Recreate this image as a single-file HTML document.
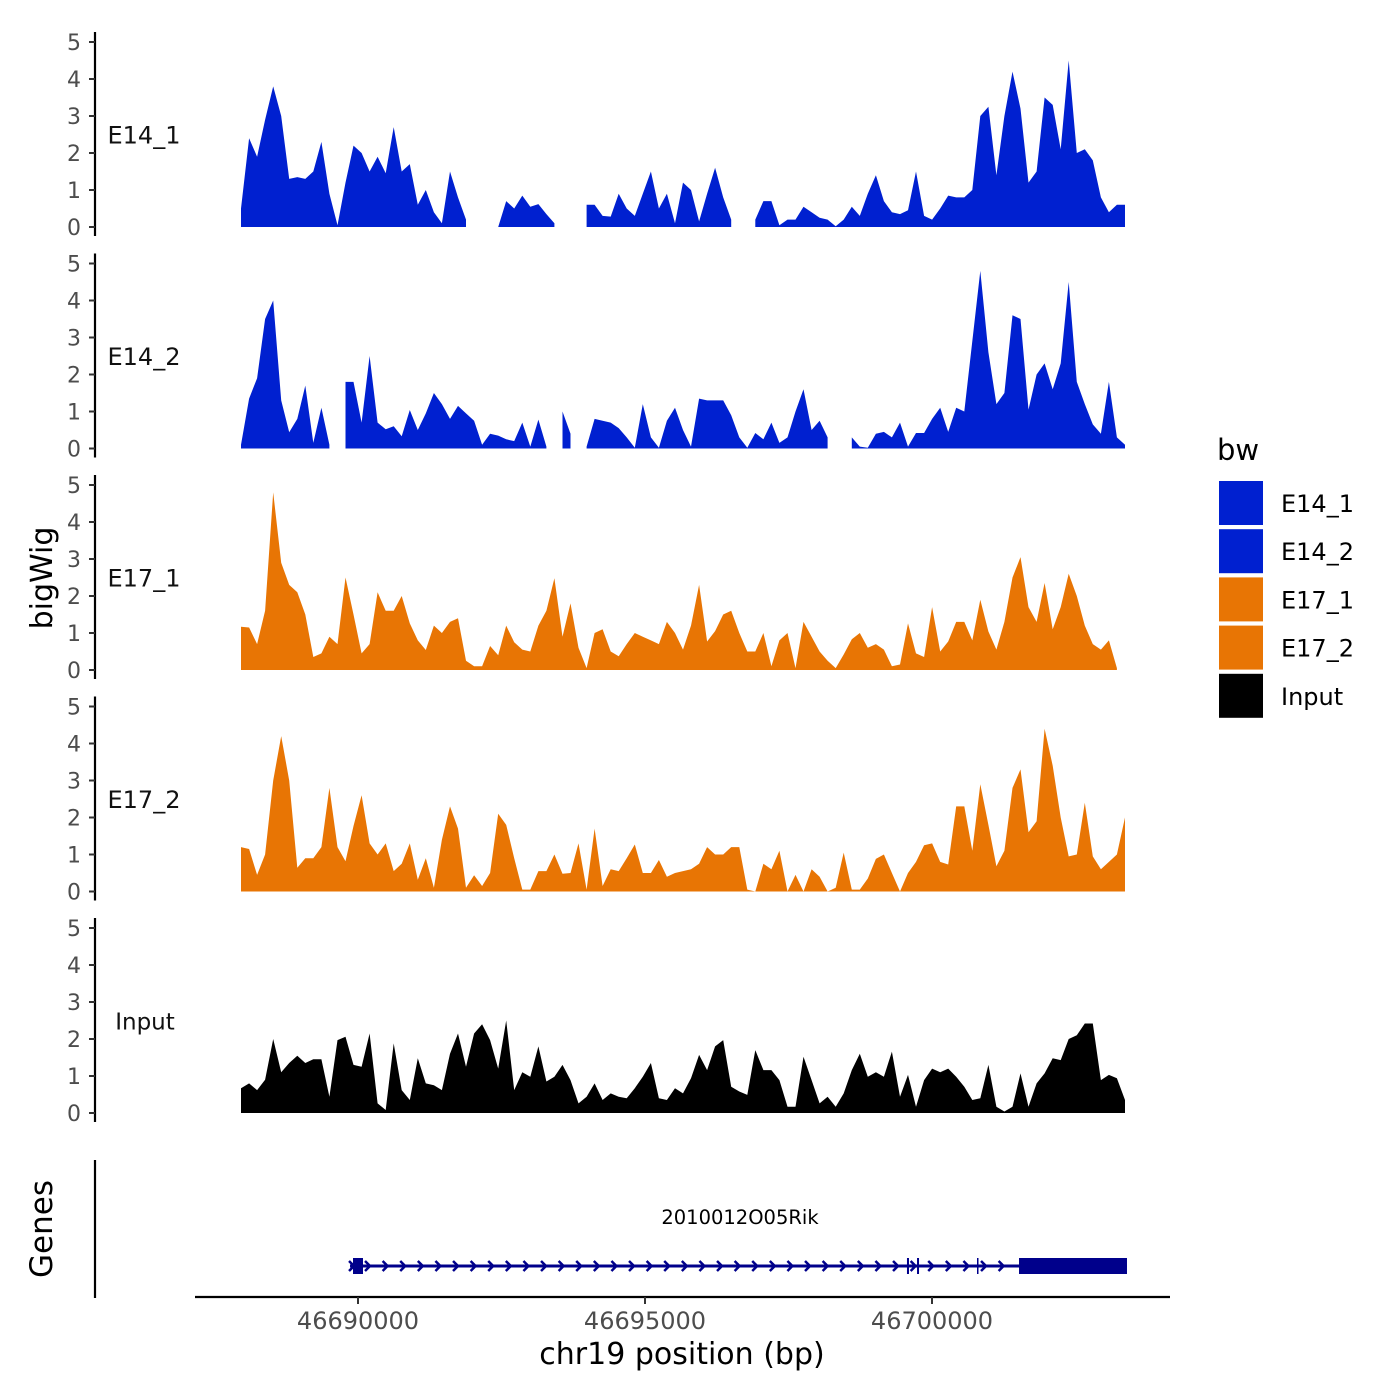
<!DOCTYPE html>
<html><head><meta charset="utf-8"><title>bigWig tracks</title>
<style>
html,body{margin:0;padding:0;background:#fff;}
svg{display:block;font-family:"DejaVu Sans","Liberation Sans",sans-serif;}
</style></head>
<body>
<svg id="chart" width="1400" height="1400" viewBox="0 0 1400 1400" xmlns="http://www.w3.org/2000/svg">
  <rect x="0" y="0" width="1400" height="1400" fill="#fff"/>
  <text transform="translate(52,578) rotate(-90)" text-anchor="middle" font-size="30" fill="#000">bigWig</text>
  <text transform="translate(52,1229) rotate(-90)" text-anchor="middle" font-size="31" fill="#000">Genes</text>
  <line x1="95" y1="1160" x2="95" y2="1298" stroke="#000" stroke-width="2.2"/>
  <line x1="195" y1="1297" x2="1170" y2="1297" stroke="#000" stroke-width="2.2"/>
  <text x="682" y="1364" text-anchor="middle" font-size="30" fill="#000">chr19 position (bp)</text>
  <g id="panels"></g>
  <g id="xaxis"></g>
  <g id="gene"></g>
  <g id="legend">
    <text x="1217" y="460" font-size="29" fill="#000">bw</text>
  </g>
</svg>
<script>
// ---- data ----
const trackNames = ["E14_1","E14_2","E17_1","E17_2","Input"];
const trackColors = ["#0020d0","#0020d0","#e87504","#e87504","#000000"];
const startBp = 46687962;
const stepBp = 140;
const yTicks = [0,1,2,3,4,5];
const xTicks = [46690000,46695000,46700000];
const e14_1 = [0.5,2.4,1.9,2.9,3.8,3.0,1.3,1.35,1.3,1.5,
 2.3,0.9,0.05,1.2,2.2,2.0,1.5,1.9,1.45,2.7,
 1.5,1.7,0.6,1.0,0.4,0.1,1.5,0.8,0.2,null,
 null,null,0,0.7,0.5,0.85,0.55,0.62,0.35,0.1,
 null,null,null,0.6,0.6,0.3,0.28,0.9,0.5,0.3,
 0.9,1.5,0.5,0.9,0.1,1.2,1.0,0.15,0.9,1.6,
 0.8,0.2,null,null,0.2,0.7,0.7,0.05,0.2,0.2,
 0.55,0.4,0.25,0.2,0.02,0.2,0.55,0.3,0.9,1.4,
 0.7,0.4,0.35,0.45,1.5,0.3,0.2,0.5,0.85,0.8,
 0.8,1.0,3.0,3.25,1.4,3.0,4.2,3.2,1.2,1.5,
 3.5,3.3,2.1,4.5,2.0,2.1,1.8,0.8,0.4,0.6,
 0.6];
const e14_2 = [0.1,1.35,1.9,3.5,4.0,1.3,0.44,0.8,1.7,0.15,
 1.1,0.1,null,1.8,1.8,0.7,2.5,0.7,0.52,0.6,
 0.33,1.04,0.5,0.95,1.5,1.2,0.8,1.15,0.95,0.75,
 0.1,0.4,0.35,0.25,0.2,0.7,0.05,0.78,0.05,null,
 1.0,0.4,null,0.05,0.8,0.75,0.7,0.55,0.3,0.02,
 1.2,0.3,0.02,0.75,1.1,0.5,0.05,1.35,1.3,1.3,
 1.3,0.9,0.3,0.02,0.42,0.25,0.7,0.15,0.3,1.0,
 1.6,0.5,0.75,0.3,null,null,0.3,0.05,0.02,0.4,
 0.45,0.3,0.7,0.05,0.42,0.42,0.8,1.1,0.45,1.1,
 1.0,2.9,4.8,2.6,1.2,1.5,3.6,3.5,1.05,2.0,
 2.3,1.6,2.3,4.5,1.8,1.2,0.65,0.4,1.8,0.3,
 0.1];
const e17_1 = [1.17,1.15,0.7,1.6,4.8,2.9,2.3,2.1,1.5,0.35,
 0.45,0.9,0.7,2.5,1.5,0.45,0.7,2.1,1.6,1.6,
 2.0,1.26,0.8,0.54,1.2,1.0,1.3,1.4,0.25,0.1,
 0.1,0.65,0.4,1.2,0.75,0.55,0.5,1.2,1.6,2.48,
 0.9,1.8,0.6,0.05,1.0,1.1,0.5,0.37,0.7,1.0,
 0.9,0.8,0.7,1.3,1.0,0.55,1.2,2.3,0.77,1.05,
 1.5,1.6,1.0,0.5,0.5,1.0,0.1,0.8,1.0,0.05,
 1.3,0.9,0.5,0.25,0.05,0.42,0.83,1.0,0.6,0.7,
 0.55,0.1,0.15,1.26,0.45,0.35,1.7,0.5,0.77,1.3,
 1.3,0.8,1.9,1.04,0.55,1.3,2.5,3.05,1.7,1.3,
 2.35,1.1,1.7,2.6,2.0,1.2,0.7,0.55,0.8,0.05,
 null];
const e17_2 = [1.2,1.15,0.45,1.0,3.0,4.2,3.0,0.64,0.9,0.9,
 1.2,2.8,1.2,0.82,1.77,2.6,1.3,1.0,1.3,0.55,
 0.75,1.3,0.32,0.9,0.1,1.4,2.3,1.7,0.1,0.44,
 0.15,0.5,2.1,1.8,0.9,0.05,0.05,0.55,0.55,1.0,
 0.48,0.5,1.3,0.05,1.7,0.15,0.6,0.55,0.9,1.27,
 0.5,0.5,0.85,0.4,0.5,0.55,0.6,0.75,1.2,1.0,
 1.0,1.2,1.2,0.05,0,0.75,0.6,1.1,0,0.45,
 0,0.6,0.4,0,0.1,1.05,0.05,0.05,0.35,0.88,
 1.0,0.5,0,0.5,0.8,1.25,1.3,0.8,0.73,2.3,
 2.3,1.1,2.9,1.8,0.68,1.1,2.8,3.3,1.6,1.9,
 4.4,3.4,2.0,0.95,1.0,2.4,0.95,0.6,0.8,1.0,
 2.0];
const input = [0.67,0.8,0.62,0.9,2.0,1.1,1.35,1.55,1.35,1.45,
 1.45,0.44,1.97,2.06,1.3,1.25,2.15,0.26,0.08,1.88,
 0.62,0.35,1.48,0.8,0.75,0.62,1.6,2.15,1.25,2.15,
 2.4,1.97,1.2,2.5,0.62,1.1,0.98,1.8,0.85,0.98,
 1.3,0.89,0.26,0.44,0.8,0.35,0.53,0.44,0.4,0.67,
 0.98,1.35,0.4,0.35,0.67,0.53,0.94,1.57,1.16,1.8,
 1.97,0.71,0.58,0.49,1.7,1.16,1.16,0.89,0.17,0.17,
 1.52,0.89,0.26,0.44,0.17,0.53,1.16,1.6,0.98,1.1,
 0.98,1.66,0.44,1.03,0.17,0.89,1.2,1.1,1.2,0.98,
 0.71,0.35,0.4,1.3,0.17,0.04,0.17,1.07,0.17,0.8,
 1.07,1.48,1.43,2.0,2.1,2.42,2.42,0.89,1.03,0.94,
 0.35];
const trackValues = [e14_1,e14_2,e17_1,e17_2,input];
const geneName = "2010012O05Rik";
const geneStart = 46689861, geneEnd = 46703397;
const exonStarts = [46689913,46699564,46699739,46700784,46701516];
const exonEnds   = [46690087,46699599,46699774,46700790,46703397];

// ---- scales ----
const NS="http://www.w3.org/2000/svg";
function xScale(bp){ return 358 + (bp-46690000)*0.0574; }
function panelBase(p){ return 227 + p*221.5; }
function yScale(p,v){ return panelBase(p) - v*37; }
function mk(tag,attrs,parent){ const e=document.createElementNS(NS,tag); for(const k in attrs) e.setAttribute(k,attrs[k]); parent.appendChild(e); return e; }

const panels=document.getElementById('panels');
trackValues.forEach((vals,p)=>{
  const g=mk('g',{},panels);
  
  
  const base=panelBase(p);
  const ax=mk('line',{x1:95,y1:base-195,x2:95,y2:base+9,stroke:'#000','stroke-width':2.2},g);
  
  
  yTicks.forEach(t=>{
    const y=yScale(p,t);
    const tk=mk('line',{x1:89,y1:y,x2:95,y2:y,stroke:'#333','stroke-width':2},g);
    
    
    const tl=mk('text',{x:81,y:y+8,'text-anchor':'end','font-size':22,fill:'#4d4d4d'},g);
    tl.textContent=t;
    
    
  });
  let seg=[];
  const segs=[];
  vals.forEach((v,i)=>{
    if(v===null){ if(seg.length) segs.push(seg); seg=[]; }
    else seg.push([xScale(startBp+i*stepBp), yScale(p,v)]);
  });
  if(seg.length) segs.push(seg);
  segs.forEach(s=>{
    let d='M'+s[0][0].toFixed(1)+','+base;
    s.forEach(pt=>{ d+=' L'+pt[0].toFixed(1)+','+pt[1].toFixed(1); });
    d+=' L'+s[s.length-1][0].toFixed(1)+','+base+' Z';
    const a=mk('path',{d:d,fill:trackColors[p]},g);
    
    
  });
  const lab=mk('text',{x:p===4?145:144,y:yScale(p,2.5)+9,'text-anchor':'middle','font-size':p===4?23:24,fill:'#111'},g);
  lab.textContent=trackNames[p];
  
  
});

const xa=document.getElementById('xaxis');
xTicks.forEach(t=>{
  const x=xScale(t);
  const tk=mk('line',{x1:x,y1:1297,x2:x,y2:1304,stroke:'#333','stroke-width':2},xa);
  
  
  const tl=mk('text',{x:x,y:1329,'text-anchor':'middle','font-size':24,fill:'#4d4d4d'},xa);
  tl.textContent=t;
  
  
});

const gg=document.getElementById('gene');
const gy=1266, gc='#00008b';
const gl=mk('text',{x:740,y:1224,'text-anchor':'middle','font-size':19.5,fill:'#000'},gg);
gl.textContent=geneName;


const gline=mk('line',{x1:xScale(geneStart),y1:gy,x2:xScale(geneEnd),y2:gy,stroke:gc,'stroke-width':3},gg);


for(let x=xScale(geneStart)+18; x<xScale(exonStarts[4])-4; x+=17.6){
  const c=mk('polyline',{points:(x-3)+','+(gy-5)+' '+(x+2)+','+gy+' '+(x-3)+','+(gy+5),fill:'none',stroke:gc,'stroke-width':2.5},gg);
  
  
}
const c0=mk('polyline',{points:(xScale(geneStart)-1)+','+(gy-5)+' '+(xScale(geneStart)+4)+','+gy+' '+(xScale(geneStart)-1)+','+(gy+5),fill:'none',stroke:gc,'stroke-width':2.5},gg);


exonStarts.forEach((s,i)=>{
  const x1=xScale(s), x2=xScale(exonEnds[i]);
  const r=mk('rect',{x:x1,y:gy-8,width:Math.max(1.5,x2-x1),height:16,fill:gc},gg);
  
  
});

const lg=document.getElementById('legend');
const legendColors=["#0020d0","#0020d0","#e87504","#e87504","#000000"];
trackNames.forEach((n,i)=>{
  const y=481+i*48.2;
  const r=mk('rect',{x:1219,y:y,width:44,height:44,fill:legendColors[i]},lg);
  
  
  const t=mk('text',{x:1281,y:y+31,'font-size':24,fill:'#000'},lg);
  t.textContent=n;
  
  
});
</script>
</body></html>
